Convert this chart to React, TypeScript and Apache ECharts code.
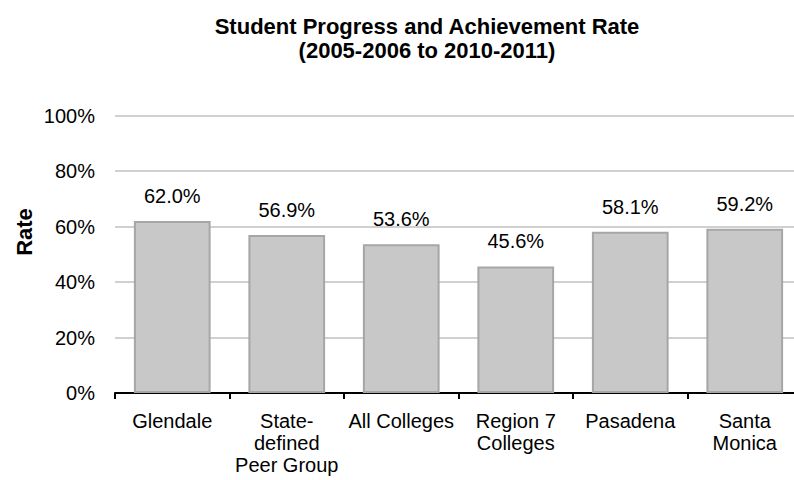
import React, { useEffect, useRef } from "react";
import * as echarts from "echarts";

const categories = [
  "Glendale",
  "State-\ndefined\nPeer Group",
  "All Colleges",
  "Region 7\nColleges",
  "Pasadena",
  "Santa\nMonica",
];
const rates = [62.0, 56.9, 53.6, 45.6, 58.1, 59.2];
const titleLines = ["Student Progress and Achievement Rate", "(2005-2006 to 2010-2011)"];
const yAxisTitle = "Rate";

export default function App() {
  const ref = useRef<HTMLDivElement>(null);
  useEffect(() => {
    const chart = echarts.init(ref.current!, null, { renderer: "svg" });
    const font = "Liberation Sans, Arial, sans-serif";
    chart.setOption({
      animation: false,
      title: {
        text: titleLines.join("\n"),
        left: 427,
        textAlign: "center",
        top: 14,
        padding: 0,
        textStyle: { fontFamily: font, fontSize: 22, fontWeight: "bold", color: "#000", lineHeight: 24 },
      },
      graphic: [
        {
          type: "text",
          x: 24,
          y: 232,
          rotation: Math.PI / 2,
          style: {
            text: yAxisTitle,
            fontFamily: font,
            fontSize: 22,
            fontWeight: "bold",
            fill: "#000",
            align: "center",
            verticalAlign: "middle",
          },
        },
      ],
      grid: { left: 115, top: 115.5, width: 687, height: 277.5, containLabel: false, outerBoundsMode: "none" },
      xAxis: {
        type: "category",
        data: categories,
        axisLine: { lineStyle: { color: "#000", width: 2 } },
        axisTick: { show: true, length: 6, lineStyle: { color: "#000", width: 2 } },
        axisLabel: { fontFamily: font, fontSize: 20, color: "#000", lineHeight: 22, margin: 17, interval: 0 },
      },
      yAxis: {
        type: "value",
        min: 0,
        max: 100,
        interval: 20,
        axisLine: { show: false },
        axisTick: { show: false },
        axisLabel: { fontFamily: font, fontSize: 20, color: "#000", margin: 20, formatter: "{value}%" },
        splitLine: { lineStyle: { color: "#d0d0d0", width: 2 } },
      },
      series: [
        {
          type: "bar",
          data: rates,
          barCategoryGap: "33%",
          itemStyle: { color: "#c8c8c8", borderColor: "#a6a6a6", borderWidth: 2 },
          label: {
            show: true,
            position: "top",
            distance: 15,
            fontFamily: font,
            fontSize: 20,
            color: "#000",
            formatter: (p: any) => p.value.toFixed(1) + "%",
          },
        },
      ],
    });
    return () => chart.dispose();
  }, []);
  return <div ref={ref} style={{ width: 794, height: 480, position: "absolute", left: 0, top: 0, background: "#fff" }} />;
}
